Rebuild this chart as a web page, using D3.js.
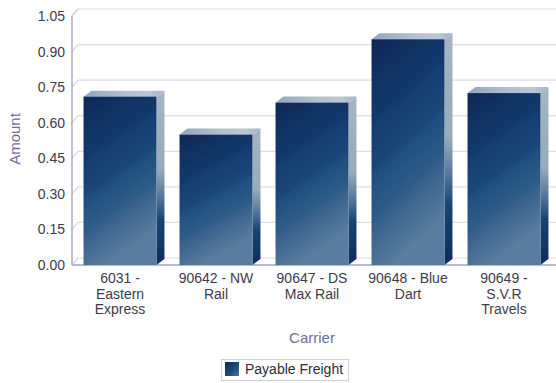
<!DOCTYPE html>
<html><head><meta charset="utf-8">
<script src="https://cdn.jsdelivr.net/npm/d3@7"></script>
<style>body{margin:0;background:#fff}svg{display:block}</style>
</head><body><svg id="c" width="556" height="383"></svg>
<script>
const categories = ["6031 - Eastern Express","90642 - NW Rail","90647 - DS Max Rail","90648 - Blue Dart","90649 - S.V.R Travels"];
const payableFreight = [0.71, 0.55, 0.685, 0.952, 0.725];
const yTicks = [0.00,0.15,0.30,0.45,0.60,0.75,0.90,1.05];
const seriesName = "Payable Freight";
const xTitle = "Carrier", yTitle = "Amount";

const svg = d3.select("#c");
const font = "Arial, 'Liberation Sans', sans-serif";
const L = 72, R = 552, B = 265, T = 16;
const wdx = 6, wdy = 7;   // wall depth
const bdx = 8, bdy = 6;   // bar depth

const x = d3.scaleBand().domain(categories).range([L, R]).paddingInner(0.24).paddingOuter(0.12);
const y = d3.scaleLinear().domain([0, 1.05]).range([B, T]);

const defs = svg.append("defs");
const gf = defs.append("linearGradient").attr("id","gFront").attr("x1",0).attr("y1",0).attr("x2",0.3).attr("y2",1);
[[0,"#0f2756"],[0.12,"#112d5f"],[0.13,"#0f3060"],[0.35,"#133a6c"],[0.36,"#143e70"],[0.55,"#1a4877"],[0.56,"#1d4e7d"],[0.75,"#2f5d8a"],[0.76,"#365f8b"],[1,"#5a7d9f"]]
  .forEach(s=>gf.append("stop").attr("offset",s[0]).attr("stop-color",s[1]));
const gs = defs.append("linearGradient").attr("id","gSide").attr("x1",0).attr("y1",0).attr("x2",0).attr("y2",1);
[[0,"#a6b4c6"],[0.45,"#98aabd"],[0.62,"#52739a"],[0.74,"#1a4373"],[1,"#0e2c5a"]]
  .forEach(s=>gs.append("stop").attr("offset",s[0]).attr("stop-color",s[1]));
const gt = defs.append("linearGradient").attr("id","gTop").attr("x1",0).attr("y1",0).attr("x2",1).attr("y2",0);
[[0,"#93a5bb"],[0.5,"#b2bfd0"],[0.8,"#bcc7d6"],[1,"#a3b2c4"]]
  .forEach(s=>gt.append("stop").attr("offset",s[0]).attr("stop-color",s[1]));
const gl = defs.append("linearGradient").attr("id","gLeg").attr("x1",0).attr("y1",0).attr("x2",1).attr("y2",1);
[[0,"#0f2756"],[0.6,"#1d4e7d"],[1,"#4f7498"]].forEach(s=>gl.append("stop").attr("offset",s[0]).attr("stop-color",s[1]));

// back wall gridlines
const grid = svg.append("g");
yTicks.forEach(t=>{
  const yy = y(t);
  grid.append("line").attr("x1",L+wdx).attr("x2",556).attr("y1",yy-wdy).attr("y2",yy-wdy)
    .attr("stroke","#dcdcea").attr("stroke-width",1.2);
  grid.append("line").attr("x1",L).attr("x2",L+wdx).attr("y1",yy).attr("y2",yy-wdy)
    .attr("stroke","#d4d4e4").attr("stroke-width",1.2);
});

// axes
const yAxis = d3.axisLeft(y).tickValues(yTicks).tickFormat(d3.format(".2f")).tickSize(0).tickPadding(7);
const ga = svg.append("g").attr("transform",`translate(${L},0)`).call(yAxis);
ga.select(".domain").attr("stroke","#a0a0c0").attr("stroke-width",1.3).attr("d",`M0,${T}V${B}`);
ga.selectAll("text").attr("font-family",font).attr("font-size",14).attr("fill","#3c3c4c");
svg.append("line").attr("x1",L).attr("x2",556).attr("y1",B).attr("y2",B).attr("stroke","#a0a0c0").attr("stroke-width",1.3);
svg.append("line").attr("x1",L).attr("x2",L+wdx).attr("y1",T).attr("y2",T-wdy).attr("stroke","#d4d4e4").attr("stroke-width",1.2);

// bars
const bars = svg.append("g").selectAll("g").data(categories).join("g");
bars.each(function(c,i){
  const g = d3.select(this);
  const x0 = x(c), w = x.bandwidth(), y0 = y(payableFreight[i]);
  g.append("path").attr("fill","url(#gSide)")
    .attr("d",`M${x0+w},${y0}L${x0+w+bdx},${y0-bdy}L${x0+w+bdx},${B-bdy}L${x0+w},${B}Z`);
  g.append("path").attr("fill","url(#gTop)")
    .attr("d",`M${x0},${y0}L${x0+bdx},${y0-bdy}L${x0+w+bdx},${y0-bdy}L${x0+w},${y0}Z`);
  g.append("rect").attr("x",x0).attr("y",y0).attr("width",w).attr("height",B-y0).attr("fill","url(#gFront)");
});

// category labels
const xl = svg.append("g");
categories.forEach(c=>{
  const t = xl.append("text").attr("x",x(c)+x.bandwidth()/2).attr("y",283)
    .attr("text-anchor","middle").attr("font-family",font).attr("font-size",14).attr("fill","#3c3c4c");
  const words = c.split(" ");
  let line = [], lines = [];
  const probe = t.append("tspan");
  words.forEach(wd=>{
    const test = line.concat(wd).join(" ");
    probe.text(test);
    if (probe.node().getComputedTextLength() > 84 && line.length){ lines.push(line.join(" ")); line=[wd]; }
    else line.push(wd);
  });
  lines.push(line.join(" "));
  probe.remove();
  lines.forEach((ln,k)=>t.append("tspan").attr("x",x(c)+x.bandwidth()/2).attr("dy",k?15.5:0).text(ln));
});

// axis titles
svg.append("text").attr("x",312).attr("y",343).attr("text-anchor","middle").attr("font-family",font)
  .attr("font-size",15).attr("fill","#6e6e98").text(xTitle);
svg.append("text").attr("transform","translate(20,139) rotate(-90)").attr("text-anchor","middle").attr("font-family",font)
  .attr("font-size",15).attr("fill","#6e6e98").text(yTitle);

// legend
const lg = svg.append("g");
lg.append("rect").attr("x",221.5).attr("y",359.5).attr("width",127).attr("height",21).attr("fill","#fff").attr("stroke","#cfcfd8");
lg.append("rect").attr("x",225).attr("y",362).attr("width",14).attr("height",14).attr("fill","url(#gLeg)");
lg.append("text").attr("x",245).attr("y",374).attr("font-family",font).attr("font-size",14).attr("fill","#2c2c3c").text(seriesName);
</script></body></html>
